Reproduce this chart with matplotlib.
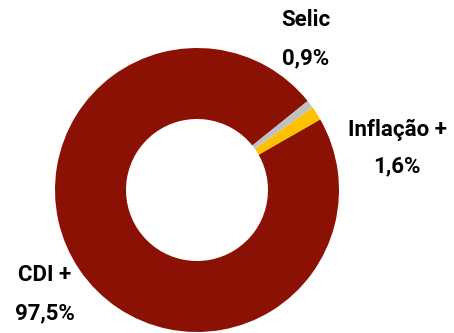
import matplotlib

matplotlib.use("Agg")
import matplotlib.pyplot as plt

# data
categories = ["CDI +", "Inflação +", "Selic"]
shares = [97.5, 1.6, 0.9]
colors = ["#8A1104", "#FFC000", "#C0C0C0"]

# label anchors in pixels (x, y from top) for name line and value line
label_pos = [((45, 275), (45, 313)), ((397, 130), (397, 166)), ((306, 20), (306, 58))]

W, H = 454, 333
fig = plt.figure(figsize=(W / 100, H / 100), dpi=100)
ax = fig.add_axes([55 / W, (H - 332) / H, 284 / W, 284 / H])
ax.pie(
    shares, colors=colors, startangle=38.8, counterclock=True,
    radius=1.0, wedgeprops=dict(width=0.5, linewidth=0),
)
ax.set_xlim(-1, 1)
ax.set_ylim(-1, 1)
ax.set_aspect("equal")
ax.axis("off")

for name, val, (p_name, p_val) in zip(categories, shares, label_pos):
    val_txt = f"{val:.1f}%".replace(".", ",")
    for txt, (px, py) in ((name, p_name), (val_txt, p_val)):
        fig.text(px / W, 1 - py / H, txt, ha="center", va="center",
                 fontsize=16, fontweight="bold", family="Roboto", color="black")

fig.savefig("out.png", dpi=100, facecolor="white")
